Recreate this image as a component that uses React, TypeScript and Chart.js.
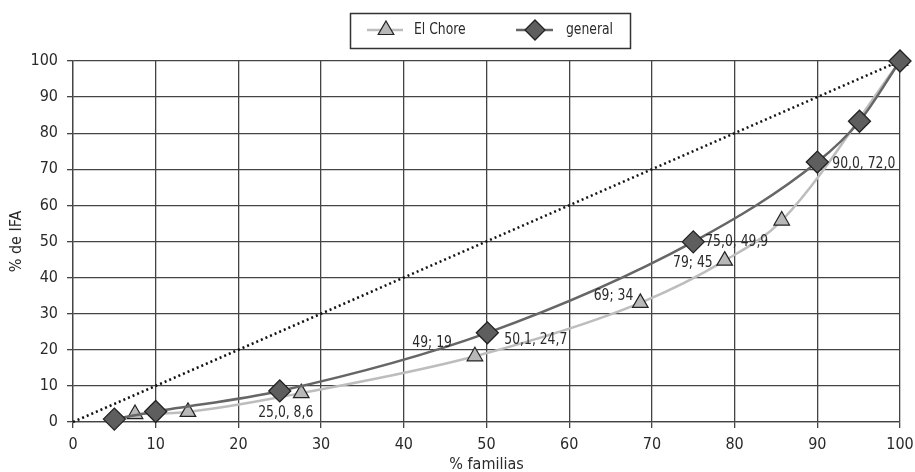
import React, { useEffect, useRef } from "react";
import { Chart, registerables } from "chart.js";

Chart.register(...registerables);

// ---- Data ----
const generalX = [5, 10, 25, 50.1, 75, 90, 95.1, 100];
const generalY = [0.8, 2.9, 8.6, 24.7, 49.9, 72.0, 83.3, 100];
const generalLabels = ["", "", "25,0, 8,6", "50,1, 24,7", "75,0, 49,9", "90,0, 72,0", "", ""];

const choreX = [7.5, 13.9, 27.6, 48.6, 68.6, 78.8, 85.7, 100];
const choreY = [2.2, 2.8, 8.0, 18.2, 33.0, 44.7, 55.8, 100];
const choreLabels = ["", "", "", "49; 19", "69; 34", "79; 45", "", ""];

const equalityX = [0, 100];
const equalityY = [0, 100];

const xTicks = [0, 10, 20, 30, 40, 50, 60, 70, 80, 90, 100];
const yTicks = [0, 10, 20, 30, 40, 50, 60, 70, 80, 90, 100];

const seriesNames = ["El Chore", "general"];
const xTitle = "% familias";
const yTitle = "% de IFA";

// ---- Styles ----
const FONT = "'Liberation Sans Narrow', 'Arial Narrow', 'DejaVu Sans Condensed', sans-serif";
const TEXT = "#2a2a2a";
const GENERAL_LINE = "#666666";
const GENERAL_FILL = "#5e5e5e";
const CHORE_LINE = "#bdbdbd";
const CHORE_FILL = "#b8b8b8";
const GRID = "#444444";
const SQUASH = 0.86;

// label placement (dx, dy relative to point; align)
const labelPlacement: Record<string, { dx: number; dy: number; align: CanvasTextAlign }> = {
  "25,0, 8,6": { dx: 6, dy: 22, align: "center" },
  "50,1, 24,7": { dx: 17, dy: 7, align: "left" },
  "75,0, 49,9": { dx: 12, dy: 0, align: "left" },
  "90,0, 72,0": { dx: 15, dy: 2, align: "left" },
  "49; 19": { dx: -23, dy: -13, align: "right" },
  "69; 34": { dx: -7, dy: -7, align: "right" },
  "79; 45": { dx: -12, dy: 2, align: "right" },
};

function toPts(xs: number[], ys: number[]) {
  return xs.map((x, i) => ({ x, y: ys[i] }));
}

function squashText(ctx: CanvasRenderingContext2D, text: string, x: number, y: number, align: CanvasTextAlign) {
  ctx.save();
  ctx.textAlign = align;
  ctx.translate(x, y);
  ctx.scale(SQUASH, 1);
  ctx.fillText(text, 0, 0);
  ctx.restore();
}

function drawTriangle(ctx: CanvasRenderingContext2D, x: number, y: number, r: number) {
  ctx.beginPath();
  for (let k = 0; k < 3; k++) {
    const a = -Math.PI / 2 + (k * 2 * Math.PI) / 3;
    const px = x + Math.cos(a) * r;
    const py = y + Math.sin(a) * r;
    if (k === 0) ctx.moveTo(px, py);
    else ctx.lineTo(px, py);
  }
  ctx.closePath();
  ctx.fillStyle = CHORE_FILL;
  ctx.fill();
  ctx.lineWidth = 1.2;
  ctx.strokeStyle = "#222";
  ctx.stroke();
}

function drawDiamond(ctx: CanvasRenderingContext2D, x: number, y: number, r: number) {
  ctx.beginPath();
  ctx.moveTo(x, y - r);
  ctx.lineTo(x + r, y);
  ctx.lineTo(x, y + r);
  ctx.lineTo(x - r, y);
  ctx.closePath();
  ctx.fillStyle = GENERAL_FILL;
  ctx.fill();
  ctx.lineWidth = 1.3;
  ctx.strokeStyle = "#222";
  ctx.stroke();
}

const boxLegendPlugin = {
  id: "boxLegend",
  afterDraw(chart: any) {
    const ctx: CanvasRenderingContext2D = chart.ctx;
    ctx.save();
    ctx.strokeStyle = "#333";
    ctx.lineWidth = 1.5;
    ctx.strokeRect(350.5, 13.5, 280, 35);
    const cy = 30;
    // El Chore
    ctx.strokeStyle = CHORE_LINE;
    ctx.lineWidth = 2.5;
    ctx.beginPath();
    ctx.moveTo(367, cy);
    ctx.lineTo(403, cy);
    ctx.stroke();
    drawTriangle(ctx, 386, cy, 9);
    // general
    ctx.strokeStyle = GENERAL_LINE;
    ctx.lineWidth = 2.5;
    ctx.beginPath();
    ctx.moveTo(516, cy);
    ctx.lineTo(553, cy);
    ctx.stroke();
    drawDiamond(ctx, 535, cy, 10);
    ctx.fillStyle = TEXT;
    ctx.font = `16px ${FONT}`;
    ctx.textBaseline = "middle";
    squashText(ctx, seriesNames[0], 414, cy, "left");
    squashText(ctx, seriesNames[1], 566, cy, "left");
    ctx.restore();
  },
};

const pointLabelPlugin = {
  id: "pointLabels",
  afterDatasetsDraw(chart: any) {
    const ctx: CanvasRenderingContext2D = chart.ctx;
    ctx.save();
    ctx.font = `16px ${FONT}`;
    ctx.fillStyle = TEXT;
    ctx.textBaseline = "middle";
    chart.data.datasets.forEach((ds: any, di: number) => {
      const labels: string[] | undefined = ds.pointLabels;
      if (!labels) return;
      const meta = chart.getDatasetMeta(di);
      labels.forEach((lab, i) => {
        if (!lab) return;
        const el = meta.data[i];
        const p = labelPlacement[lab] || { dx: 10, dy: 0, align: "left" as CanvasTextAlign };
        squashText(ctx, lab, el.x + p.dx, el.y + p.dy, p.align);
      });
    });
    ctx.restore();
  },
};

export default function App() {
  const ref = useRef<HTMLCanvasElement | null>(null);

  useEffect(() => {
    if (!ref.current) return;
    Chart.defaults.font.family = FONT;
    Chart.defaults.font.size = 16;
    Chart.defaults.color = TEXT;

    const chart = new Chart(ref.current, {
      type: "line",
      data: {
        datasets: [
          {
            label: seriesNames[1],
            data: toPts(generalX, generalY),
            borderColor: GENERAL_LINE,
            borderWidth: 2.5,
            backgroundColor: GENERAL_FILL,
            pointStyle: "rectRot",
            pointRadius: 11,
            pointBorderColor: "#222",
            pointBorderWidth: 1.3,
            cubicInterpolationMode: "monotone",
            clip: false,
            pointLabels: generalLabels,
          } as any,
          {
            label: seriesNames[0],
            data: toPts(choreX, choreY),
            borderColor: CHORE_LINE,
            borderWidth: 2.5,
            backgroundColor: CHORE_FILL,
            pointStyle: "triangle",
            pointRadius: 9,
            pointBorderColor: "#222",
            pointBorderWidth: 1.2,
            cubicInterpolationMode: "monotone",
            clip: false,
            pointLabels: choreLabels,
          } as any,
          {
            label: "igualdad",
            data: toPts(equalityX, equalityY),
            borderColor: "#111",
            borderWidth: 2.5,
            borderDash: [2, 3],
            pointRadius: 0,
            tension: 0,
            clip: false,
          } as any,
        ],
      },
      options: {
        animation: false,
        responsive: true,
        maintainAspectRatio: false,
        layout: { padding: { top: 61, right: 15, left: 0, bottom: 0 } },
        plugins: {
          legend: { display: false },
          tooltip: { enabled: false },
        },
        scales: {
          x: {
            type: "linear",
            min: 0,
            max: 100,
            afterBuildTicks: (s: any) => {
              s.ticks = xTicks.map((v) => ({ value: v }));
            },
            afterFit: (s: any) => {
              s.height = 50;
              s.paddingLeft = 0;
              s.paddingRight = 0;
            },
            ticks: { padding: 7, color: TEXT, font: { size: 16 } },
            grid: { color: GRID, lineWidth: 1.3, tickLength: 6, tickColor: GRID },
            border: { color: GRID, width: 1.3 },
            title: {
              display: true,
              text: xTitle,
              color: TEXT,
              font: { size: 16 },
              padding: { top: 0, bottom: -2 },
            },
          },
          y: {
            type: "linear",
            min: 0,
            max: 100,
            afterBuildTicks: (s: any) => {
              s.ticks = yTicks.map((v) => ({ value: v }));
            },
            afterFit: (s: any) => {
              s.width = 73;
            },
            ticks: { padding: 9, color: TEXT, font: { size: 16 } },
            grid: { color: GRID, lineWidth: 1.3, tickLength: 6, tickColor: GRID },
            border: { color: GRID, width: 1.3 },
            title: {
              display: true,
              text: yTitle,
              color: TEXT,
              font: { size: 16 },
              padding: { top: 7, bottom: 0 },
            },
          },
        },
      },
      plugins: [pointLabelPlugin, boxLegendPlugin],
    });
    return () => chart.destroy();
  }, []);

  return (
    <div style={{ position: "absolute", left: 0, top: 0, width: 915, height: 472, background: "#fff" }}>
      <canvas ref={ref} />
    </div>
  );
}
